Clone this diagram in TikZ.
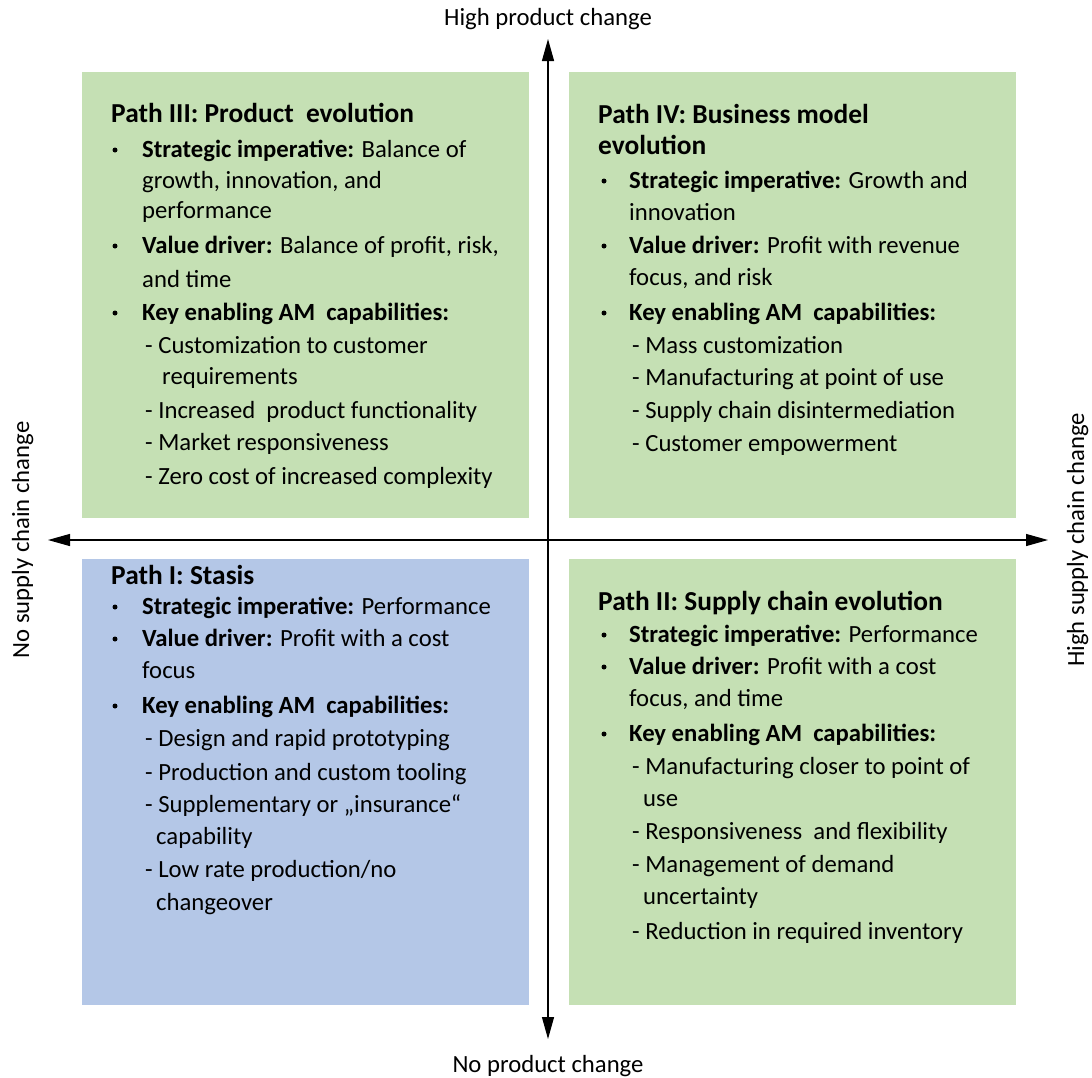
\documentclass[tikz,border=0pt]{standalone}
\usepackage{fontspec}
\setmainfont{Carlito}
\usetikzlibrary{arrows.meta}

\definecolor{pathgreen}{RGB}{197,224,180}
\definecolor{pathblue}{RGB}{180,199,231}

\newcommand\bodysize{\fontsize{24.7}{33}\selectfont}
\newcommand\titlesize{\fontsize{27.4}{33}\selectfont\bfseries}

\tikzset{
  heading/.style={anchor=base west, inner sep=0pt, font=\titlesize},
  line/.style={anchor=base west, inner sep=0pt, font=\bodysize},
  dot/.style={circle, fill=black, inner sep=0pt, minimum size=5pt},
  axislabel/.style={anchor=base, inner sep=0pt, font=\bodysize},
  axis/.style={line width=1.2pt,
    {Triangle[width=12pt,length=22pt]}-{Triangle[width=12pt,length=22pt]}},
}

\begin{document}
\begin{tikzpicture}[x=1pt,y=-1pt]
\useasboundingbox (0,0) rectangle (1092,1077);

% quadrant panels
\fill[pathgreen] (82,72) rectangle (529,518);
\fill[pathgreen] (569,72) rectangle (1016,518);
\fill[pathblue]  (82,559) rectangle (529,1005);
\fill[pathgreen] (569,559) rectangle (1016,1005);

% axes
\coordinate (ytop) at (548,39);
\coordinate (ybot) at (548,1039);
\coordinate (xleft) at (48,540);
\coordinate (xright) at (1048,540);
\draw[axis] (ybot) -- (ytop);
\draw[axis] (xleft) -- (xright);

% axis labels
\node[axislabel] (lhp) at (548,25) {High product change};
\node[axislabel] (lnp) at (548,1072) {No product change};
\node[axislabel, rotate=90] (lns) at (29,540) {No supply chain change};
\node[axislabel, rotate=90] (lhs) at (1084,540) {High supply chain change};

% Path III (upper left)
\node[heading] (p3t) at (111,122) {Path III: Product\hspace{0.45em}evolution};
\node[dot] (p3b1) at (115,150) {};
\node[line] (p3a) at (142,157) {\textbf{Strategic imperative:} Balance of};
\node[line] (p3b) at (142,188) {growth, innovation, and};
\node[line] (p3c) at (142,218) {performance};
\node[dot] (p3b2) at (115,246) {};
\node[line] (p3d) at (142,253) {\textbf{Value driver:} Balance of profit, risk,};
\node[line] (p3e) at (142,287) {and time};
\node[dot] (p3b3) at (115,313) {};
\node[line] (p3f) at (142,320) {\textbf{Key enabling AM\hspace{0.45em}capabilities:}};
\node[line] (p3g) at (145,353) {- Customization to customer};
\node[line] (p3h) at (162,384) {requirements};
\node[line] (p3i) at (145,418) {- Increased\hspace{0.45em}product functionality};
\node[line] (p3j) at (145,450) {- Market responsiveness};
\node[line] (p3k) at (145,484) {- Zero cost of increased complexity};

% Path IV (upper right)
\node[heading] (p4t) at (598,123) {Path IV: Business model};
\node[heading] (p4u) at (598,154) {evolution};
\node[dot] (p4b1) at (604,181) {};
\node[line] (p4a) at (629,188) {\textbf{Strategic imperative:} Growth and};
\node[line] (p4b) at (629,220) {innovation};
\node[dot] (p4b2) at (604,246) {};
\node[line] (p4c) at (629,253) {\textbf{Value driver:} Profit with revenue};
\node[line] (p4d) at (629,285) {focus, and risk};
\node[dot] (p4b3) at (604,313) {};
\node[line] (p4e) at (629,320) {\textbf{Key enabling AM\hspace{0.45em}capabilities:}};
\node[line] (p4f) at (632,353) {- Mass customization};
\node[line] (p4g) at (632,385) {- Manufacturing at point of use};
\node[line] (p4h) at (632,418) {- Supply chain disintermediation};
\node[line] (p4i) at (632,451) {- Customer empowerment};

% Path I (lower left)
\node[heading] (p1t) at (111,584) {Path I: Stasis};
\node[dot] (p1b1) at (115,607) {};
\node[line] (p1a) at (142,614) {\textbf{Strategic imperative:} Performance};
\node[dot] (p1b2) at (115,639) {};
\node[line] (p1b) at (142,646) {\textbf{Value driver:} Profit with a cost};
\node[line] (p1c) at (142,678) {focus};
\node[dot] (p1b3) at (115,706) {};
\node[line] (p1d) at (142,713) {\textbf{Key enabling AM\hspace{0.45em}capabilities:}};
\node[line] (p1e) at (145,746) {- Design and rapid prototyping};
\node[line] (p1f) at (145,780) {- Production and custom tooling};
\node[line] (p1g) at (145,812) {- Supplementary or „insurance“};
\node[line] (p1h) at (156,844) {capability};
\node[line] (p1i) at (145,877) {- Low rate production/no};
\node[line] (p1j) at (156,910) {changeover};

% Path II (lower right)
\node[heading] (p2t) at (598,610) {Path II: Supply chain evolution};
\node[dot] (p2b1) at (604,635) {};
\node[line] (p2a) at (629,642) {\textbf{Strategic imperative:} Performance};
\node[dot] (p2b2) at (604,667) {};
\node[line] (p2b) at (629,674) {\textbf{Value driver:} Profit with a cost};
\node[line] (p2c) at (629,706) {focus, and time};
\node[dot] (p2b3) at (604,734) {};
\node[line] (p2d) at (629,741) {\textbf{Key enabling AM\hspace{0.45em}capabilities:}};
\node[line] (p2e) at (632,774) {- Manufacturing closer to point of};
\node[line] (p2f) at (643,806) {use};
\node[line] (p2g) at (632,839) {- Responsiveness\hspace{0.45em}and flexibility};
\node[line] (p2h) at (632,872) {- Management of demand};
\node[line] (p2i) at (643,904) {uncertainty};
\node[line] (p2j) at (632,939) {- Reduction in required inventory};
\end{tikzpicture}
\end{document}
